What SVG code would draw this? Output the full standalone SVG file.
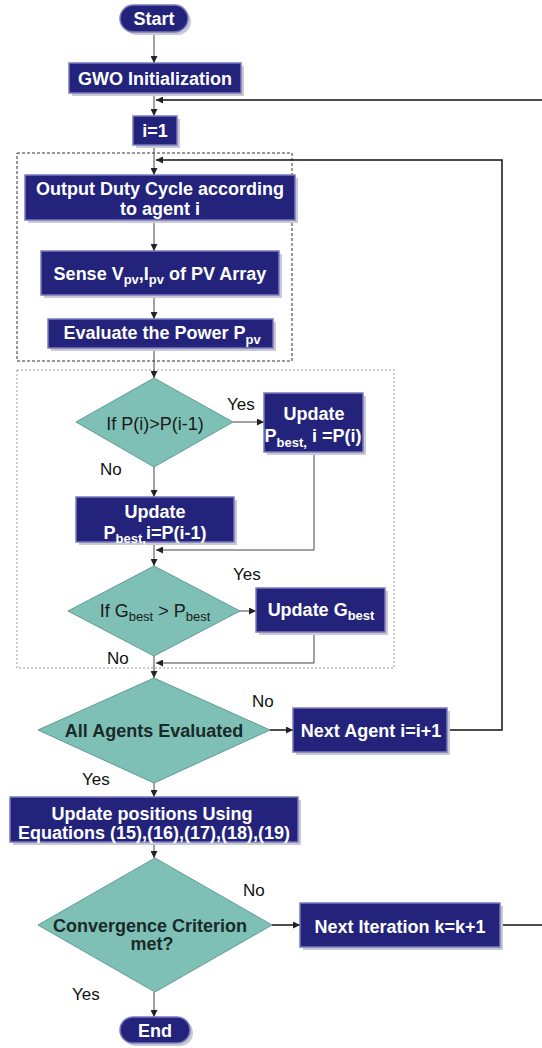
<svg xmlns="http://www.w3.org/2000/svg" width="542" height="1048" viewBox="0 0 542 1048">
<defs>
<marker id="ah" markerUnits="userSpaceOnUse" markerWidth="8" markerHeight="7" refX="7" refY="3.5" orient="auto">
<path d="M0,0 L7,3.5 L0,7 Z" fill="#222"/>
</marker>
<style>
.box{fill:#23237c;stroke:#7a7ac0;stroke-width:1.5}
.sh{fill:#c9c9d2}
.dia{fill:#7fc0b6;stroke:#5e9c93;stroke-width:1}
.t{font-family:"Liberation Sans",Arial,sans-serif;font-weight:bold;font-size:18px;fill:#ffffff;text-anchor:middle}
.d{font-family:"Liberation Sans",Arial,sans-serif;font-size:18px;fill:#1a1a1a;text-anchor:middle}
.db{font-family:"Liberation Sans",Arial,sans-serif;font-weight:bold;font-size:18px;fill:#1a2a28;text-anchor:middle}
.lb{font-family:"Liberation Sans",Arial,sans-serif;font-size:17px;fill:#111}
.ln{fill:none;stroke:#444;stroke-width:1}
.lp{fill:none;stroke:#111;stroke-width:1.5}
</style>
</defs>
<rect width="542" height="1048" fill="#ffffff"/>

<!-- group frames -->
<rect x="17" y="153" width="275" height="208" fill="none" stroke="#333" stroke-width="1" stroke-dasharray="3,2"/>
<rect x="17" y="370" width="377" height="298" fill="none" stroke="#999" stroke-width="1" stroke-dasharray="2,2"/>

<g id="connectors">
<line class="ln" x1="154" y1="32" x2="154" y2="63" marker-end="url(#ah)"/>
<line class="ln" x1="154" y1="93" x2="154" y2="116" marker-end="url(#ah)"/>
<line class="lp" x1="542" y1="100" x2="156" y2="100" marker-end="url(#ah)"/>
<line class="ln" x1="154" y1="145" x2="154" y2="175" marker-end="url(#ah)"/>
<polyline class="lp" points="447,730 502,730 502,160 156,160" marker-end="url(#ah)"/>
<line class="ln" x1="154" y1="220" x2="154" y2="251" marker-end="url(#ah)"/>
<line class="ln" x1="154" y1="295" x2="154" y2="319" marker-end="url(#ah)"/>
<line class="ln" x1="154" y1="348" x2="154" y2="378" marker-end="url(#ah)"/>
<line class="ln" x1="233" y1="422" x2="264" y2="422" marker-end="url(#ah)"/>
<line class="ln" x1="154" y1="467" x2="154" y2="497" marker-end="url(#ah)"/>
<polyline class="ln" points="314,452 314,550 156,550" marker-end="url(#ah)"/>
<line class="ln" x1="154" y1="542" x2="154" y2="566" marker-end="url(#ah)"/>
<line class="ln" x1="240" y1="611" x2="256" y2="611" marker-end="url(#ah)"/>
<polyline class="ln" points="314,632 314,663 156,663" marker-end="url(#ah)"/>
<line class="ln" x1="154" y1="656" x2="154" y2="678" marker-end="url(#ah)"/>
<line class="lp" x1="270" y1="730" x2="293" y2="730" marker-end="url(#ah)"/>
<line class="ln" x1="154" y1="783" x2="154" y2="797" marker-end="url(#ah)"/>
<line class="ln" x1="154" y1="842" x2="154" y2="858" marker-end="url(#ah)"/>
<line class="lp" x1="272" y1="925" x2="300" y2="925" marker-end="url(#ah)"/>
<line class="lp" x1="500" y1="925" x2="542" y2="925"/>
<line class="ln" x1="154" y1="992" x2="154" y2="1017" marker-end="url(#ah)"/>
</g>

<g id="start">
<rect class="sh" x="123" y="8" width="68" height="27" rx="13.5"/>
<rect class="box" x="120" y="5" width="68" height="27" rx="13.5"/>
<text class="t" x="154" y="25" font-size="17">Start</text>
</g>

<g id="gwo-init">
<rect class="sh" x="72" y="66" width="172" height="30"/>
<rect class="box" x="69" y="63" width="172" height="30"/>
<text class="t" x="155" y="85">GWO Initialization</text>
</g>

<g id="i1">
<rect class="sh" x="136" y="119" width="44" height="29"/>
<rect class="box" x="133" y="116" width="44" height="29"/>
<text class="t" x="155" y="137">i=1</text>
</g>

<g id="output-duty">
<rect class="sh" x="28" y="178" width="270" height="45"/>
<rect class="box" x="25" y="175" width="270" height="45"/>
<text class="t" x="160" y="195">Output Duty Cycle according</text>
<text class="t" x="160" y="215">to agent i</text>
</g>

<g id="sense">
<rect class="sh" x="44" y="254" width="238" height="44"/>
<rect class="box" x="41" y="251" width="238" height="44"/>
<text class="t" x="160" y="280">Sense V<tspan font-size="13" dy="4">pv</tspan><tspan dy="-4">,I</tspan><tspan font-size="13" dy="4">pv</tspan><tspan dy="-4"> of PV Array</tspan></text>
</g>

<g id="evaluate">
<rect class="sh" x="51" y="322" width="225" height="29"/>
<rect class="box" x="48" y="319" width="225" height="29"/>
<text class="t" x="162" y="339">Evaluate the Power P<tspan font-size="13" dy="5">pv</tspan></text>
</g>

<g id="if-p">
<polygon class="dia" points="154,378 233,422 154,467 76,422"/>
<text class="d" x="155" y="430">If P(i)&gt;P(i-1)</text>
<text class="lb" x="227" y="410">Yes</text>
<text class="lb" x="100" y="475">No</text>
</g>

<g id="update-pbest-i">
<rect class="sh" x="267" y="396" width="99" height="59"/>
<rect class="box" x="264" y="393" width="99" height="59"/>
<text class="t" x="314" y="420">Update</text>
<text class="t" x="313" y="442" font-size="17">P<tspan font-size="13" dy="5">best,</tspan><tspan dy="-5"> i =P(i)</tspan></text>
</g>

<g id="update-pbest-i1">
<rect class="sh" x="79" y="500" width="158" height="45"/>
<rect class="box" x="76" y="497" width="158" height="45"/>
<text class="t" x="155" y="518">Update</text>
<text class="t" x="155" y="539" font-size="17">P<tspan font-size="13" dy="4">best,</tspan><tspan dy="-4">i=P(i-1)</tspan></text>
</g>

<g id="if-g">
<polygon class="dia" points="154,566 240,611 154,656 68,611"/>
<text class="d" x="155" y="617" font-size="17">If G<tspan font-size="13" dy="4">best</tspan><tspan dy="-4"> &gt; P</tspan><tspan font-size="13" dy="4">best</tspan></text>
<text class="lb" x="233" y="580">Yes</text>
<text class="lb" x="107" y="664">No</text>
</g>

<g id="update-gbest">
<rect class="sh" x="259" y="591" width="129" height="44"/>
<rect class="box" x="256" y="588" width="129" height="44"/>
<text class="t" x="321" y="616" font-size="17" font-weight="normal">Update G<tspan font-size="13" dy="4">best</tspan></text>
</g>

<g id="all-agents">
<polygon class="dia" points="154,678 270,730 154,783 38,730"/>
<text class="db" x="154" y="737">All Agents Evaluated</text>
<text class="lb" x="252" y="707">No</text>
<text class="lb" x="82" y="785">Yes</text>
</g>

<g id="next-agent">
<rect class="sh" x="296" y="711" width="154" height="44"/>
<rect class="box" x="293" y="708" width="154" height="44"/>
<text class="t" x="371" y="737">Next Agent i=i+1</text>
</g>

<g id="update-positions">
<rect class="sh" x="13" y="800" width="288" height="45"/>
<rect class="box" x="10" y="797" width="288" height="45"/>
<text class="t" x="152" y="820">Update positions Using</text>
<text class="t" x="154" y="839" textLength="272" lengthAdjust="spacingAndGlyphs">Equations (15),(16),(17),(18),(19)</text>
</g>

<g id="convergence">
<polygon class="dia" points="155,858 272,925 155,992 38,925"/>
<text class="db" x="150" y="932">Convergence Criterion</text>
<text class="db" x="152" y="950">met?</text>
<text class="lb" x="243" y="896">No</text>
<text class="lb" x="72" y="1000">Yes</text>
</g>

<g id="next-iteration">
<rect class="sh" x="303" y="906" width="200" height="44"/>
<rect class="box" x="300" y="903" width="200" height="44"/>
<text class="t" x="400" y="933">Next Iteration k=k+1</text>
</g>

<g id="end">
<rect class="sh" x="123" y="1020" width="70" height="26" rx="13"/>
<rect class="box" x="120" y="1017" width="70" height="26" rx="13"/>
<text class="t" x="155" y="1037" font-size="17">End</text>
</g>
</svg>
